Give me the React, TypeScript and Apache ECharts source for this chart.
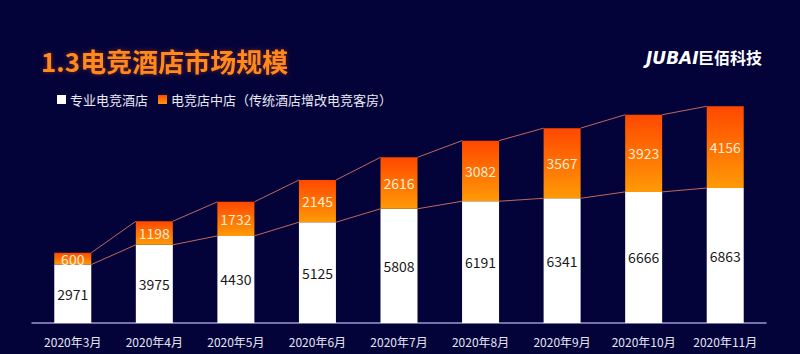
import React, { useEffect, useRef } from "react";
import * as echarts from "echarts";

const categories = ["2020年3月", "2020年4月", "2020年5月", "2020年6月", "2020年7月", "2020年8月", "2020年9月", "2020年10月", "2020年11月"];
const proHotels = [2971, 3975, 4430, 5125, 5808, 6191, 6341, 6666, 6863];
const shopInShop = [600, 1198, 1732, 2145, 2616, 3082, 3567, 3923, 4156];
const seriesNames = ["专业电竞酒店", "电竞店中店（传统酒店增改电竞客房）"];
const titleText = "1.3电竞酒店市场规模";

const BAR_W = 37;

export default function App() {
  const ref = useRef<HTMLDivElement>(null);
  useEffect(() => {
    const chart = echarts.init(ref.current!, null, { renderer: "svg" });
    const totals = proHotels.map((v, i) => v + shopInShop[i]);
    const linkData = categories.slice(0, -1).map((_, i) => [i, totals[i]]);
    chart.setOption({
      animation: false,
      backgroundColor: "#03033a",
      title: {
        text: titleText,
        left: 36,
        top: 42,
        textStyle: {
          color: "#ff8a1e",
          fontSize: 26,
          fontWeight: "bold",
          fontFamily: "Noto Sans CJK SC",
          textShadowColor: "rgba(255,80,0,0.5)",
          textShadowBlur: 4,
        },
      },
      graphic: [
        {
          type: "text",
          left: 646,
          top: 49,
          style: {
            text: "JUBAI",
            fill: "#ffffff",
            font: "italic bold 17px 'DejaVu Sans'",
          },
        },
        {
          type: "text",
          left: 698,
          top: 49,
          style: {
            text: "巨佰科技",
            fill: "#ffffff",
            font: "bold 16px 'Noto Sans CJK SC'",
          },
        },
      ],
      legend: {
        left: 52,
        top: 88,
        itemWidth: 9,
        itemHeight: 9,
        itemGap: 10,
        icon: "rect",
        textStyle: { color: "#e8e8f4", fontSize: 13, fontFamily: "Noto Sans CJK SC", padding: [0, 0, 0, -1] },
        data: seriesNames,
      },
      grid: { left: 32, right: 34, top: 87, bottom: 31 },
      xAxis: {
        type: "category",
        data: categories,
        axisLine: { lineStyle: { color: "#9a9ad2", width: 1.5 } },
        axisTick: { show: false },
        axisLabel: { color: "#e4e4f6", fontSize: 12, margin: 12, interval: 0, fontFamily: "Noto Sans CJK SC" },
      },
      yAxis: {
        type: "value",
        min: 0,
        max: 12000,
        show: false,
        splitLine: { show: false },
      },
      series: [
        {
          name: seriesNames[0],
          type: "bar",
          stack: "total",
          barWidth: BAR_W,
          data: proHotels,
          itemStyle: { color: "#ffffff" },
          label: { show: true, position: "inside", color: "#1a1a1a", fontSize: 14, fontFamily: "Noto Sans CJK SC" },
        },
        {
          name: seriesNames[1],
          type: "bar",
          stack: "total",
          barWidth: BAR_W,
          data: shopInShop,
          itemStyle: {
            color: new echarts.graphic.LinearGradient(0, 0, 0, 1, [
              { offset: 0, color: "#ff4800" },
              { offset: 1, color: "#ff9a06" },
            ]),
          },
          label: { show: true, position: "inside", color: "#ffecd2", fontSize: 14, fontFamily: "Noto Sans CJK SC" },
        },
        {
          type: "custom",
          z: 5,
          silent: true,
          data: linkData,
          renderItem: (params: any, api: any) => {
            const i = api.value(0);
            const half = BAR_W / 2;
            const a1 = api.coord([i, totals[i]]);
            const b1 = api.coord([i + 1, totals[i + 1]]);
            const a2 = api.coord([i, proHotels[i]]);
            const b2 = api.coord([i + 1, proHotels[i + 1]]);
            const style = { stroke: "#c0665e", lineWidth: 1, fill: null };
            return {
              type: "group",
              children: [
                { type: "line", shape: { x1: a1[0] + half, y1: a1[1], x2: b1[0] - half, y2: b1[1] }, style },
                { type: "line", shape: { x1: a2[0] + half, y1: a2[1], x2: b2[0] - half, y2: b2[1] }, style },
              ],
            };
          },
        },
      ],
    });
    return () => chart.dispose();
  }, []);
  return <div ref={ref} style={{ width: 800, height: 354, position: "absolute", left: 0, top: 0 }} />;
}
